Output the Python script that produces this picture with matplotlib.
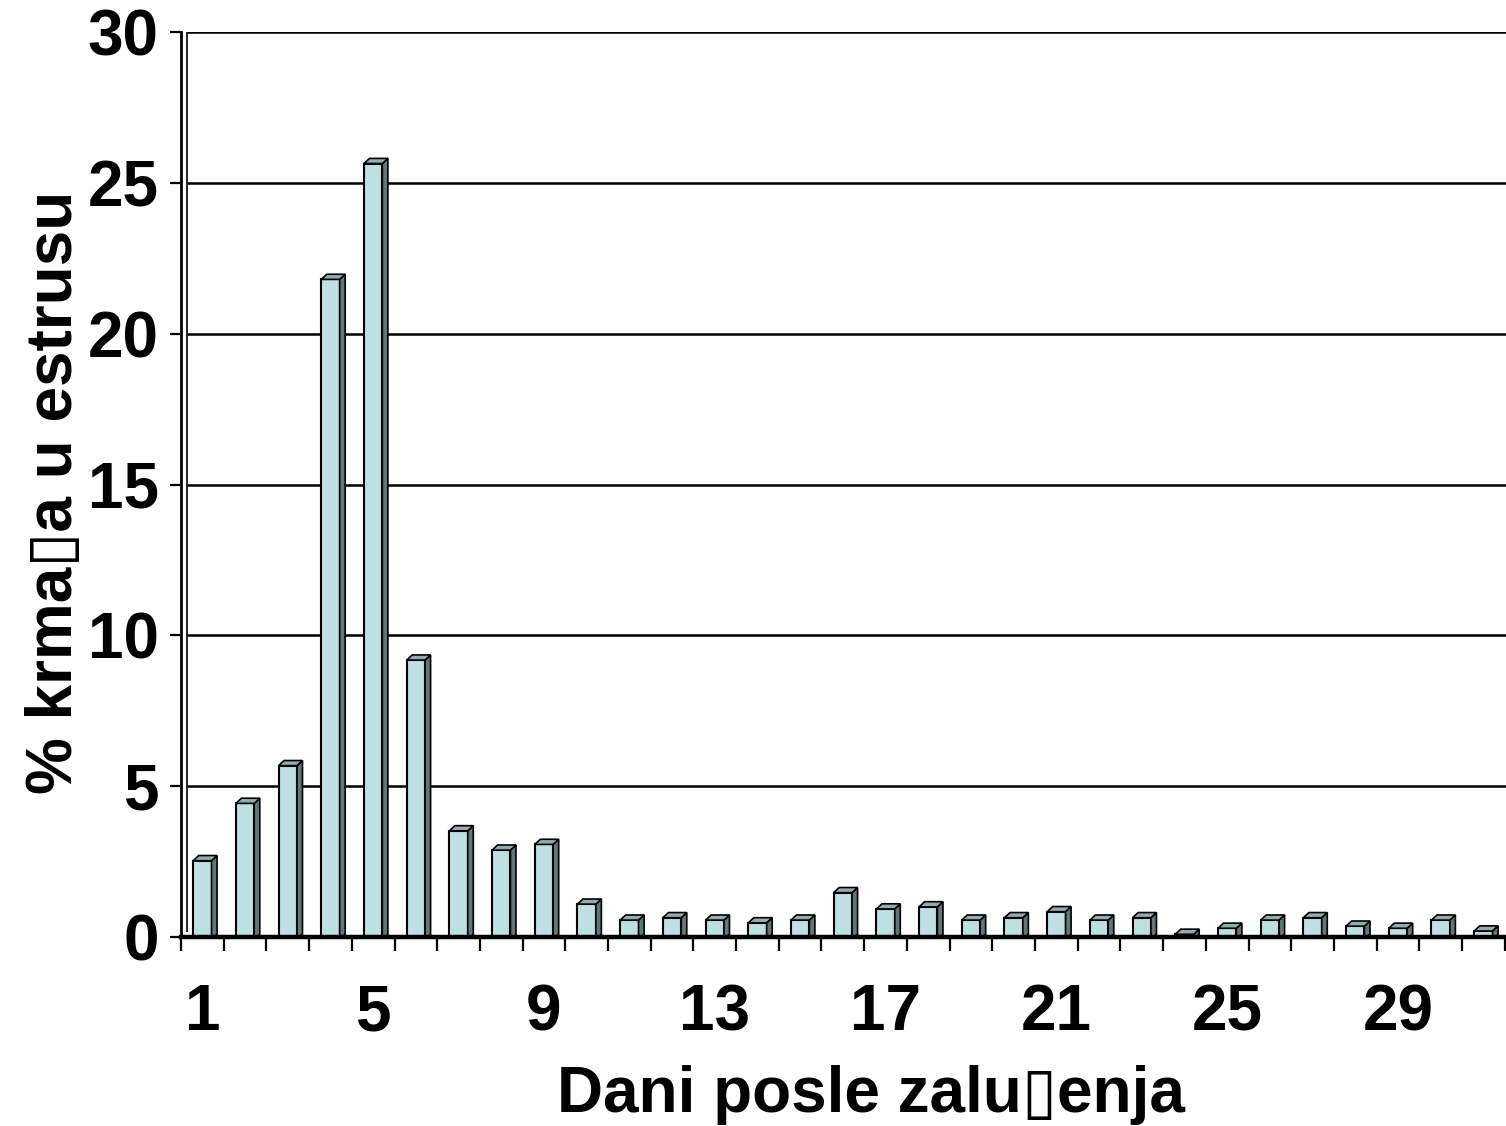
import matplotlib
matplotlib.use('Agg')
import matplotlib.pyplot as plt
from matplotlib.patches import Polygon
from matplotlib import font_manager

# ---- data ----
days = list(range(1, 32))
values = [2.53, 4.43, 5.68, 21.8, 25.64, 9.18, 3.52, 2.88, 3.07, 1.09,
          0.56, 0.64, 0.56, 0.47, 0.56, 1.47, 0.93, 1.0, 0.56, 0.64,
          0.84, 0.56, 0.64, 0.09, 0.29, 0.56, 0.64, 0.36, 0.29, 0.56, 0.2]
ytick_values = [0, 5, 10, 15, 20, 25, 30]
xtick_days = [1, 5, 9, 13, 17, 21, 25, 29]
xlabel_text = 'Dani posle zalu\u25afenja'
ylabel_text = '% krma\u25afa u estrusu'

# ---- fonts ----
avail = {f.name for f in font_manager.fontManager.ttflist}
def pick(*names):
    out = [n for n in names if n in avail]
    return out + ['DejaVu Sans']
tick_font = pick('Liberation Sans')
label_font = pick('Liberation Sans')

W, H = 1506, 1126
fig = plt.figure(figsize=(W / 100, H / 100), dpi=100)
left_px, right_px, top_px, bot_px = 181, 1506, 32, 937
ax = fig.add_axes([left_px / W, (H - bot_px) / H, (right_px - left_px) / W, (bot_px - top_px) / H])

px_per_cat = 42.7
xmax = 0.5 + (right_px - left_px) / px_per_cat
ax.set_xlim(0.5, xmax)
ax.set_ylim(0, 30)

front_c = '#bee0e3'
side_c = '#617676'
top_c = '#90aeb0'
half_w = 0.215
dx = 0.13
dy = 0.17

# back-wall gridlines
ax.hlines(ytick_values[1:], 0.5 + dx, xmax, colors='black', lw=1.8, zorder=1)
ax.vlines(0.5 + dx, dy, 30, colors='black', lw=1.2, zorder=1)

for d, v in zip(days, values):
    x0, x1 = d - half_w, d + half_w
    ax.bar(d, v, width=2 * half_w, bottom=0, color=front_c, edgecolor='black', linewidth=1.5, zorder=3)
    side = Polygon([(x1, 0), (x1 + dx, dy * 0.4), (x1 + dx, v + dy), (x1, v)], closed=True,
                   facecolor=side_c, edgecolor='black', linewidth=1.2, zorder=3)
    top = Polygon([(x0, v), (x1, v), (x1 + dx, v + dy), (x0 + dx, v + dy)], closed=True,
                  facecolor=top_c, edgecolor='black', linewidth=1.2, zorder=3)
    ax.add_patch(side)
    ax.add_patch(top)

# floor line
ax.axhline(0, color='black', lw=3.2, zorder=4, clip_on=False)

for s in ['top', 'right', 'bottom']:
    ax.spines[s].set_visible(False)
ax.spines['left'].set_linewidth(2.0)

ax.set_yticks(ytick_values)
ax.set_yticklabels([str(v) for v in ytick_values], fontfamily=tick_font, fontweight='bold', fontsize=46)
ax.tick_params(axis='y', length=8, width=1.6, pad=8, direction='out')

ax.set_xticks([i + 0.5 for i in range(0, 32)])
ax.set_xticklabels([])
ax.tick_params(axis='x', which='major', length=10, width=1.6, direction='out')
ax.set_xticks(xtick_days, minor=True)
ax.set_xticklabels([str(d) for d in xtick_days], minor=True, fontfamily=tick_font,
                   fontweight='bold', fontsize=46)
ax.tick_params(axis='x', which='minor', length=0, pad=67)
for lbl in ax.get_xticklabels(minor=True):
    lbl.set_verticalalignment('baseline')

fig.text(871 / W, (H - 1112) / H, xlabel_text, ha='center', va='baseline',
         fontfamily=label_font, fontweight='bold', fontsize=46)
fig.text(72 / W, (H - 492) / H, ylabel_text, ha='center', va='baseline', rotation=90,
         rotation_mode='anchor', fontfamily=label_font, fontweight='bold', fontsize=46)

fig.savefig('out.png', dpi=100)
